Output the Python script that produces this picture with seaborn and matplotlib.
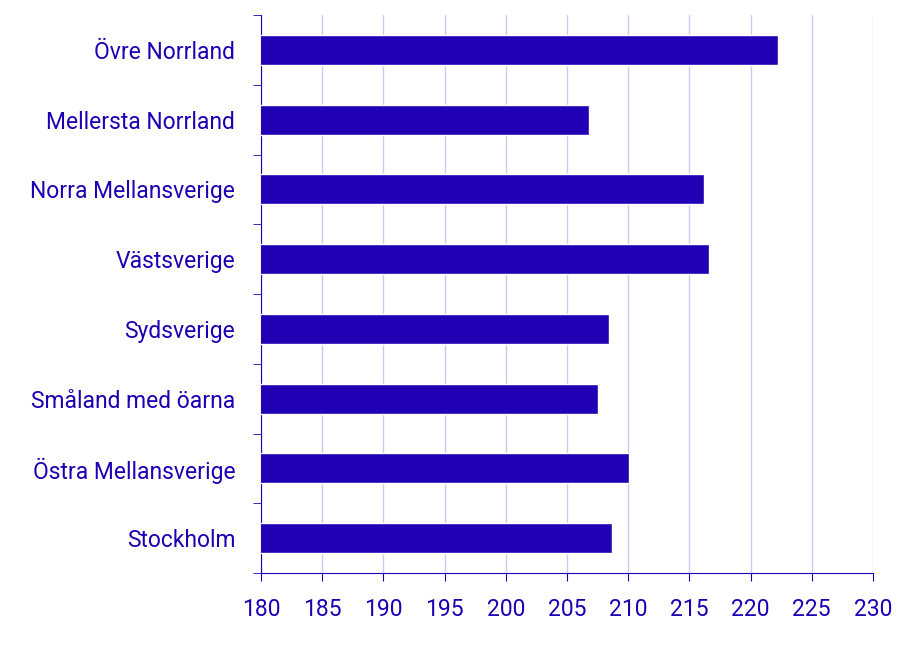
import matplotlib
matplotlib.use("Agg")
import matplotlib.pyplot as plt
import seaborn as sns
import pandas as pd
import numpy as np

regions = ["Övre Norrland", "Mellersta Norrland", "Norra Mellansverige", "Västsverige",
           "Sydsverige", "Småland med öarna", "Östra Mellansverige", "Stockholm"]
values = [222.2, 206.8, 216.2, 216.6, 208.4, 207.5, 210.1, 208.7]
xticks = [180, 185, 190, 195, 200, 205, 210, 215, 220, 225, 230]

sns.set_style("white")
plt.rcParams['font.family'] = ['Roboto', 'DejaVu Sans']
txt = "#1E00B4"
bar = "#2200B4"

df = pd.DataFrame({"region": regions, "value": values})
fig = plt.figure(figsize=(9.07, 6.62), dpi=100)
ax = fig.add_axes([261/907, 1-573/662, (873-261)/907, (573-15)/662])
sns.barplot(data=df, y="region", x="value", color=bar, saturation=1, width=0.43, ax=ax, zorder=3)
ax.set_xlim(180, 230)
ax.set_ylim(len(regions)-0.5, -0.5)
ax.set_xticks(xticks)
ax.set_xlabel(""); ax.set_ylabel("")
ax.grid(axis="x", color="#CFCBEE", linewidth=1, zorder=0)
for s in ["top", "right"]:
    ax.spines[s].set_visible(False)
for s in ["left", "bottom"]:
    ax.spines[s].set_color(txt)
ax.tick_params(axis="x", colors=txt, labelsize=16.5, length=6, direction="out", bottom=True, pad=12)
ax.tick_params(axis="y", which="major", length=0, labelsize=16.5, labelcolor=txt, pad=18.5)
ax.set_yticks(np.arange(-0.5, len(regions), 1), minor=True)
ax.tick_params(axis="y", which="minor", length=6, color=txt, left=True)
fig.savefig("out.png", dpi=100)
